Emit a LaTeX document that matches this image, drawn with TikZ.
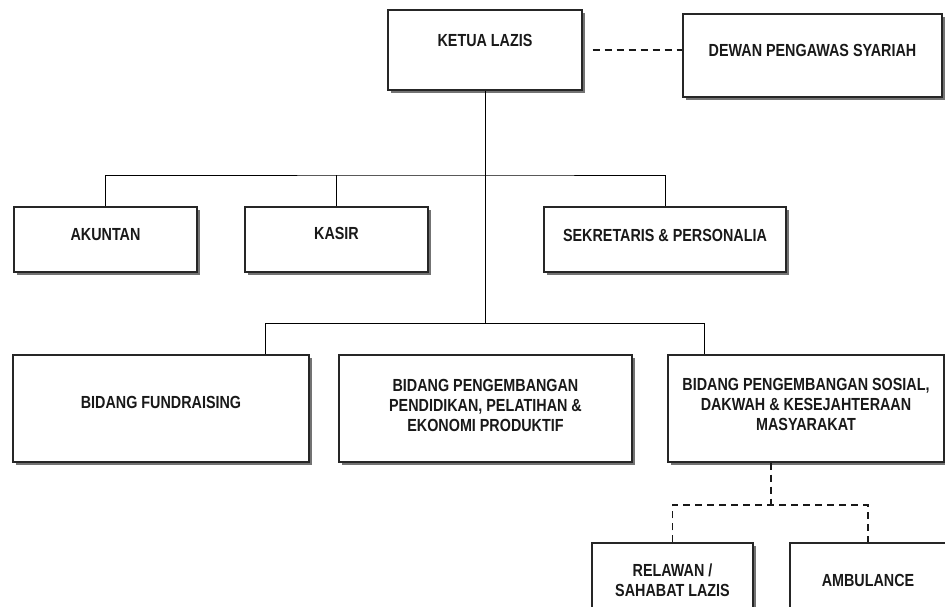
\documentclass[tikz,border=0pt]{standalone}
\usepackage{fontspec}
\setmainfont{Liberation Sans}[FakeStretch=0.82]
\usetikzlibrary{shadows}
\begin{document}
\begin{tikzpicture}[x=1pt,y=-1pt,
  box/.style={draw=black!85, line width=1.4pt, fill=white, rectangle, inner sep=0pt,
    font=\fontsize{17.5}{20}\selectfont\bfseries, align=center, text=black!90,
    text height=12.5pt,
    drop shadow={shadow xshift=3pt, shadow yshift=-3pt, fill=black!55, opacity=1}},
  link/.style={line width=1pt, draw=black},
  dlink/.style={line width=1.8pt, draw=black!90, dash pattern=on 7pt off 5pt},
]
\useasboundingbox (0,0) rectangle (945,606);

% top row
\node[box, minimum width=194pt, minimum height=80pt, text depth=20pt] (ketua) at (485,50) {KETUA LAZIS};
\node[box, minimum width=259pt, minimum height=83pt, text depth=11pt] (dewan) at (812.5,55.5) {DEWAN PENGAWAS SYARIAH};

% second row
\node[box, minimum width=183pt, minimum height=65pt, text depth=10pt] (akuntan) at (105.5,239.5) {AKUNTAN};
\node[box, minimum width=183pt, minimum height=65pt, text depth=12pt] (kasir) at (336.5,239.5) {KASIR};
\node[box, minimum width=242pt, minimum height=65pt, text depth=9pt] (sekretaris) at (665,239.5) {SEKRETARIS \& PERSONALIA};

% third row
\node[box, minimum width=296pt, minimum height=107pt, text depth=13pt] (fund) at (161,408.5) {BIDANG FUNDRAISING};
\node[box, minimum width=293pt, minimum height=107pt, text height=52.5pt, text depth=7pt] (pendidikan) at (485.5,408.5) {BIDANG PENGEMBANGAN\\PENDIDIKAN, PELATIHAN \&\\EKONOMI PRODUKTIF};
\node[box, minimum width=276pt, minimum height=107pt, text height=52.5pt, text depth=9pt] (sosial) at (806,408.5) {BIDANG PENGEMBANGAN SOSIAL,\\DAKWAH \& KESEJAHTERAAN\\MASYARAKAT};

% fourth row
\node[box, minimum width=161pt, minimum height=78pt, text height=32.5pt, text depth=4pt] (relawan) at (672.5,582) {RELAWAN /\\SAHABAT LAZIS};
\node[box, minimum width=156pt, minimum height=78pt, text depth=4pt] (ambulance) at (868,582) {AMBULANCE};

% junctions
\coordinate (t1) at (485,175);
\coordinate (t2) at (485,323);
\coordinate (f1) at (265,323);
\coordinate (f3) at (704,323);
\coordinate (b0) at (771,505);

% connectors
\draw[dlink] ([xshift=10pt]ketua.east) -- (ketua.east -| dewan.west);
\draw[link] (ketua.south) -- (t2);
\draw[link] (akuntan.north) |- (t1) -- (sekretaris.north |- t1) -- (sekretaris.north);
\draw[link] (kasir.north) -- (kasir.north |- t1);
\draw[link] (fund.north -| f1) -- (f1) -- (f3) -- (f3 |- sosial.north);
\draw[dlink] (sosial.south -| b0) -- (b0);
\draw[dlink] (relawan.north) |- (b0) -| (ambulance.north);
\end{tikzpicture}
\end{document}
